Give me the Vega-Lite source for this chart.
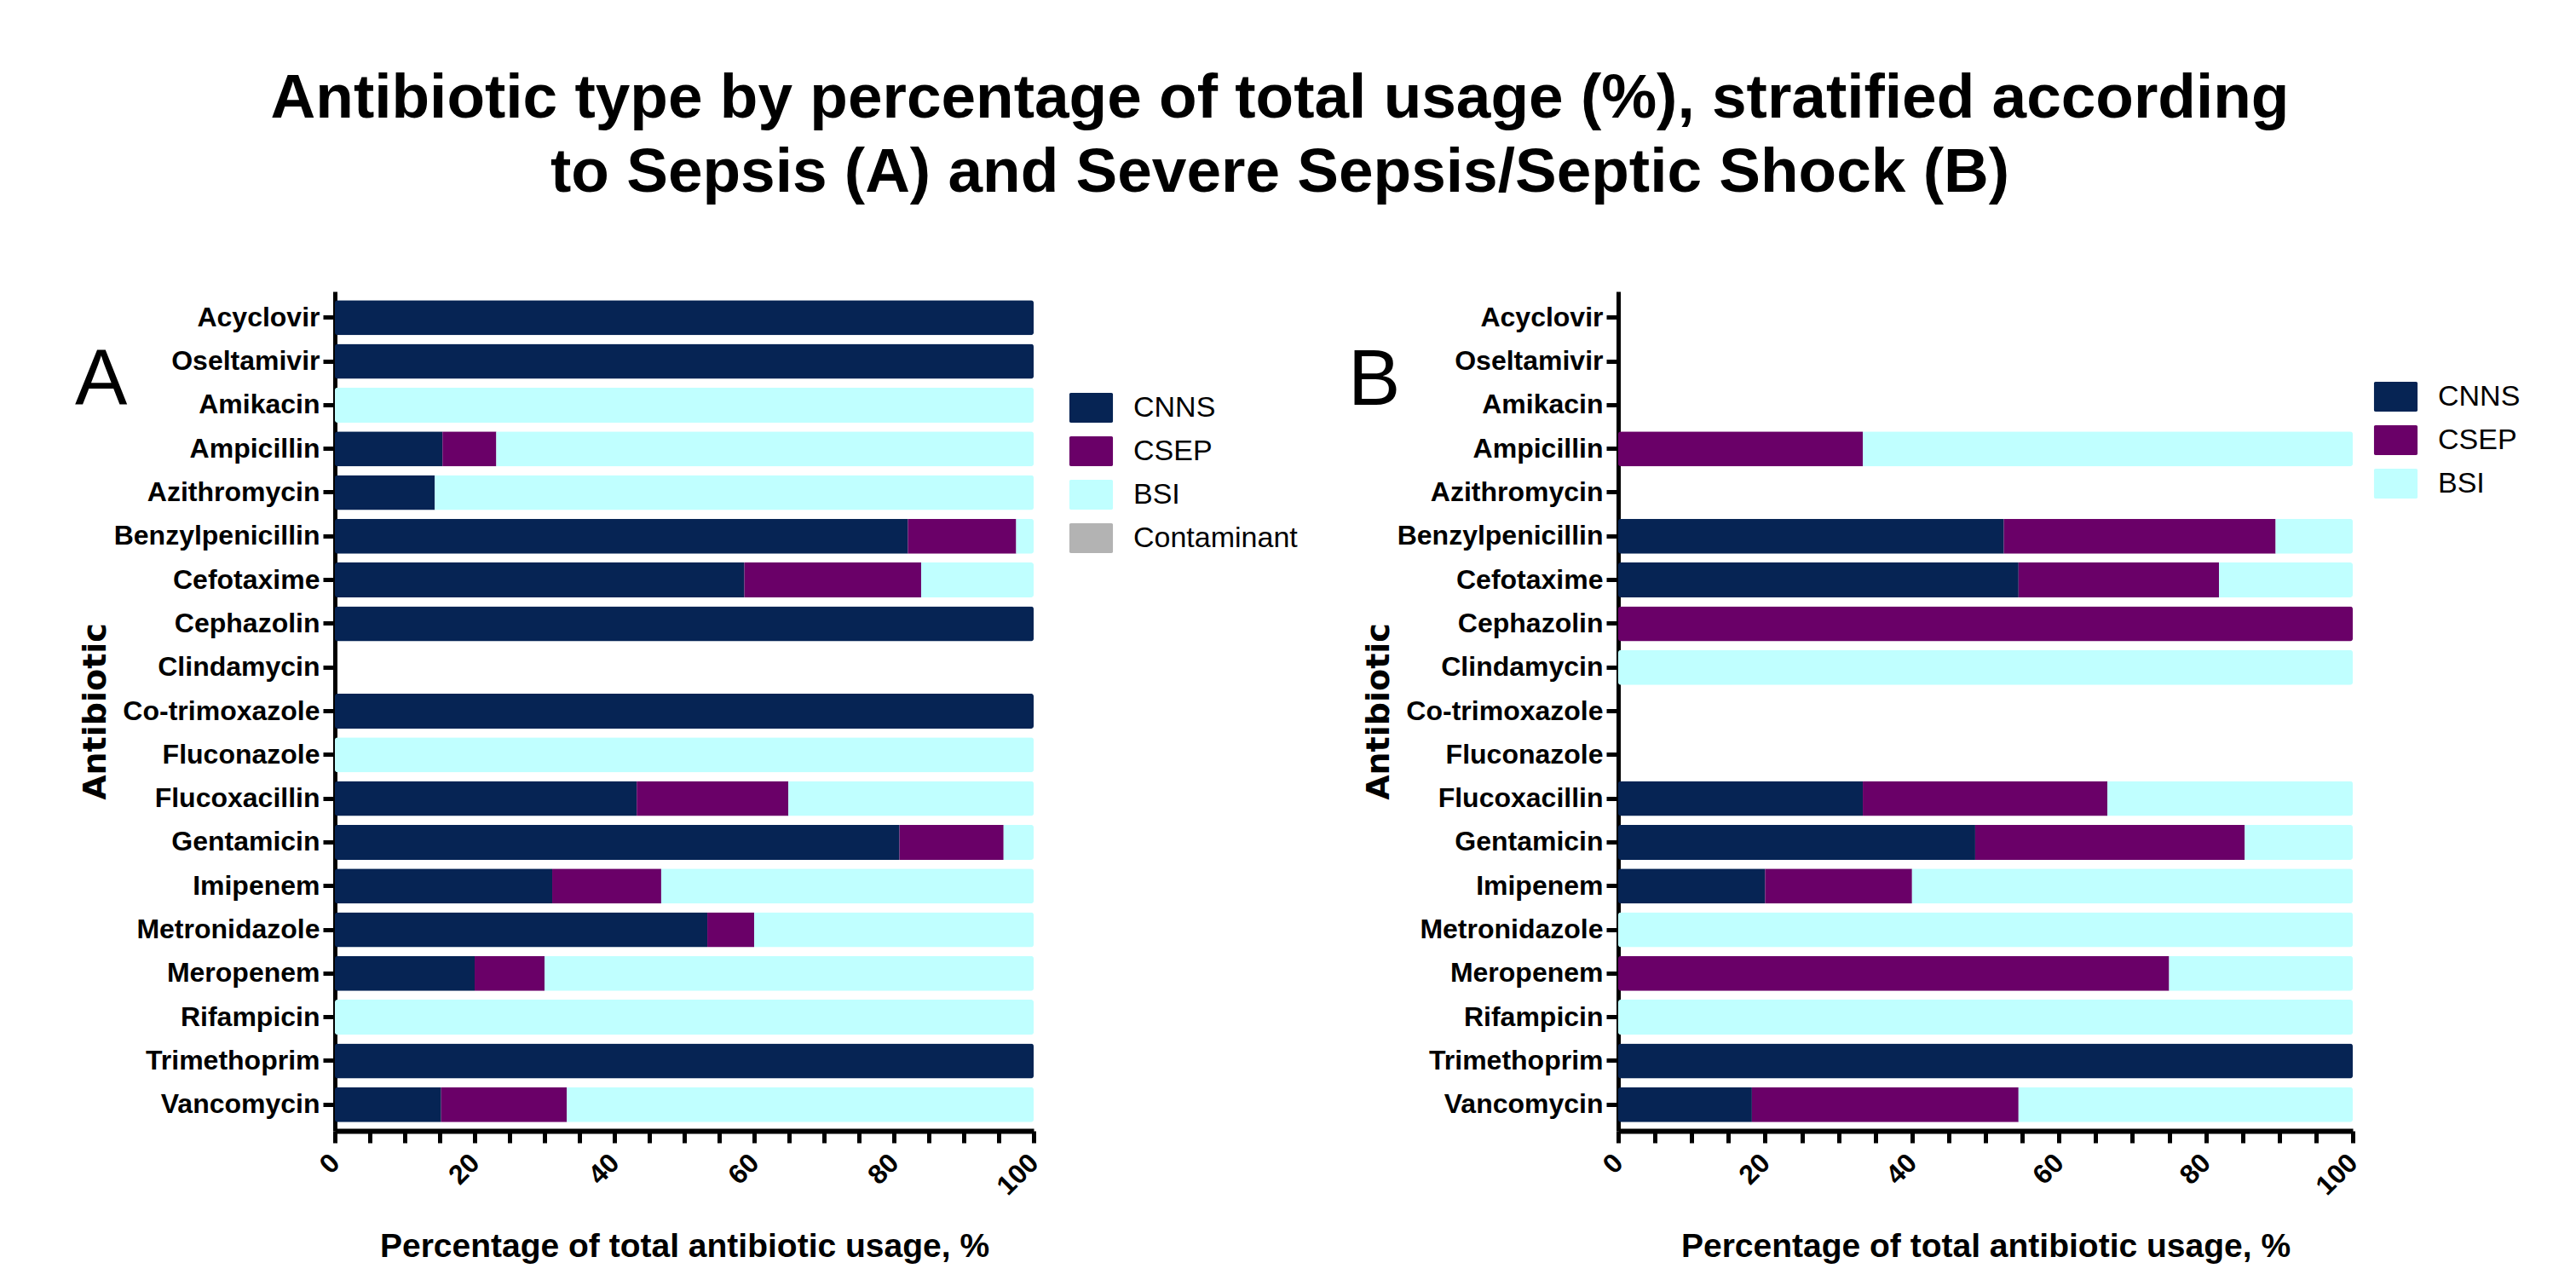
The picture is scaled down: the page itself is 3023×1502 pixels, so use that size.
{
  "$schema": "https://vega.github.io/schema/vega-lite/v6.json",
  "background": "white",
  "padding": {"left": 88, "top": 80, "right": 20, "bottom": 10},
  "title": {
    "text": ["Antibiotic type by percentage of total usage (%), stratified according", "to Sepsis (A) and Severe Sepsis/Septic Shock (B)"],
    "fontSize": 73,
    "font": "Liberation Sans",
    "fontWeight": "bold",
    "lineHeight": 87,
    "anchor": "middle",
    "offset": 102,
    "dx": -21,
    "color": "black"
  },
  "datasets": {
    "usage": [
      {"panel": "A", "antibiotic": "Acyclovir", "organism": "CNNS", "value": 100},
      {"panel": "A", "antibiotic": "Oseltamivir", "organism": "CNNS", "value": 100},
      {"panel": "A", "antibiotic": "Amikacin", "organism": "BSI", "value": 100},
      {"panel": "A", "antibiotic": "Ampicillin", "organism": "CNNS", "value": 15.4},
      {"panel": "A", "antibiotic": "Ampicillin", "organism": "CSEP", "value": 7.7},
      {"panel": "A", "antibiotic": "Ampicillin", "organism": "BSI", "value": 76.9},
      {"panel": "A", "antibiotic": "Azithromycin", "organism": "CNNS", "value": 14.3},
      {"panel": "A", "antibiotic": "Azithromycin", "organism": "BSI", "value": 85.7},
      {"panel": "A", "antibiotic": "Benzylpenicillin", "organism": "CNNS", "value": 82.0},
      {"panel": "A", "antibiotic": "Benzylpenicillin", "organism": "CSEP", "value": 15.5},
      {"panel": "A", "antibiotic": "Benzylpenicillin", "organism": "BSI", "value": 2.5},
      {"panel": "A", "antibiotic": "Cefotaxime", "organism": "CNNS", "value": 58.6},
      {"panel": "A", "antibiotic": "Cefotaxime", "organism": "CSEP", "value": 25.3},
      {"panel": "A", "antibiotic": "Cefotaxime", "organism": "BSI", "value": 16.1},
      {"panel": "A", "antibiotic": "Cephazolin", "organism": "CNNS", "value": 100},
      {"panel": "A", "antibiotic": "Co-trimoxazole", "organism": "CNNS", "value": 100},
      {"panel": "A", "antibiotic": "Fluconazole", "organism": "BSI", "value": 100},
      {"panel": "A", "antibiotic": "Flucoxacillin", "organism": "CNNS", "value": 43.2},
      {"panel": "A", "antibiotic": "Flucoxacillin", "organism": "CSEP", "value": 21.7},
      {"panel": "A", "antibiotic": "Flucoxacillin", "organism": "BSI", "value": 35.1},
      {"panel": "A", "antibiotic": "Gentamicin", "organism": "CNNS", "value": 80.8},
      {"panel": "A", "antibiotic": "Gentamicin", "organism": "CSEP", "value": 14.9},
      {"panel": "A", "antibiotic": "Gentamicin", "organism": "BSI", "value": 4.3},
      {"panel": "A", "antibiotic": "Imipenem", "organism": "CNNS", "value": 31.1},
      {"panel": "A", "antibiotic": "Imipenem", "organism": "CSEP", "value": 15.6},
      {"panel": "A", "antibiotic": "Imipenem", "organism": "BSI", "value": 53.3},
      {"panel": "A", "antibiotic": "Metronidazole", "organism": "CNNS", "value": 53.3},
      {"panel": "A", "antibiotic": "Metronidazole", "organism": "CSEP", "value": 6.7},
      {"panel": "A", "antibiotic": "Metronidazole", "organism": "BSI", "value": 40.0},
      {"panel": "A", "antibiotic": "Meropenem", "organism": "CNNS", "value": 20},
      {"panel": "A", "antibiotic": "Meropenem", "organism": "CSEP", "value": 10},
      {"panel": "A", "antibiotic": "Meropenem", "organism": "BSI", "value": 70},
      {"panel": "A", "antibiotic": "Rifampicin", "organism": "BSI", "value": 100},
      {"panel": "A", "antibiotic": "Trimethoprim", "organism": "CNNS", "value": 100},
      {"panel": "A", "antibiotic": "Vancomycin", "organism": "CNNS", "value": 15.2},
      {"panel": "A", "antibiotic": "Vancomycin", "organism": "CSEP", "value": 18.0},
      {"panel": "A", "antibiotic": "Vancomycin", "organism": "BSI", "value": 66.8},
      {"panel": "B", "antibiotic": "Ampicillin", "organism": "CSEP", "value": 33.3},
      {"panel": "B", "antibiotic": "Ampicillin", "organism": "BSI", "value": 66.7},
      {"panel": "B", "antibiotic": "Benzylpenicillin", "organism": "CNNS", "value": 52.5},
      {"panel": "B", "antibiotic": "Benzylpenicillin", "organism": "CSEP", "value": 37.0},
      {"panel": "B", "antibiotic": "Benzylpenicillin", "organism": "BSI", "value": 10.5},
      {"panel": "B", "antibiotic": "Cefotaxime", "organism": "CNNS", "value": 54.5},
      {"panel": "B", "antibiotic": "Cefotaxime", "organism": "CSEP", "value": 27.3},
      {"panel": "B", "antibiotic": "Cefotaxime", "organism": "BSI", "value": 18.2},
      {"panel": "B", "antibiotic": "Cephazolin", "organism": "CSEP", "value": 100},
      {"panel": "B", "antibiotic": "Clindamycin", "organism": "BSI", "value": 100},
      {"panel": "B", "antibiotic": "Flucoxacillin", "organism": "CNNS", "value": 33.3},
      {"panel": "B", "antibiotic": "Flucoxacillin", "organism": "CSEP", "value": 33.3},
      {"panel": "B", "antibiotic": "Flucoxacillin", "organism": "BSI", "value": 33.4},
      {"panel": "B", "antibiotic": "Gentamicin", "organism": "CNNS", "value": 48.6},
      {"panel": "B", "antibiotic": "Gentamicin", "organism": "CSEP", "value": 36.7},
      {"panel": "B", "antibiotic": "Gentamicin", "organism": "BSI", "value": 14.7},
      {"panel": "B", "antibiotic": "Imipenem", "organism": "CNNS", "value": 20},
      {"panel": "B", "antibiotic": "Imipenem", "organism": "CSEP", "value": 20},
      {"panel": "B", "antibiotic": "Imipenem", "organism": "BSI", "value": 60},
      {"panel": "B", "antibiotic": "Metronidazole", "organism": "BSI", "value": 100},
      {"panel": "B", "antibiotic": "Meropenem", "organism": "CSEP", "value": 75},
      {"panel": "B", "antibiotic": "Meropenem", "organism": "BSI", "value": 25},
      {"panel": "B", "antibiotic": "Rifampicin", "organism": "BSI", "value": 100},
      {"panel": "B", "antibiotic": "Trimethoprim", "organism": "CNNS", "value": 100},
      {"panel": "B", "antibiotic": "Vancomycin", "organism": "CNNS", "value": 18.2},
      {"panel": "B", "antibiotic": "Vancomycin", "organism": "CSEP", "value": 36.3},
      {"panel": "B", "antibiotic": "Vancomycin", "organism": "BSI", "value": 45.5}
    ]
  },
  "hconcat": [
    {
      "width": 820,
      "height": 985,
      "data": {"name": "usage"},
      "transform": [
        {"filter": "datum.panel === 'A'"},
        {"window": [{"op": "row_number", "as": "stack_rank"}], "groupby": ["antibiotic"]}
      ],
      "title": {"text": "A", "anchor": "start", "frame": "group", "fontSize": 92, "fontWeight": "normal", "font": "Liberation Sans", "baseline": "alphabetic", "offset": 0, "dx": -305, "dy": 225, "color": "black"},
      "mark": {"type": "bar", "cornerRadius": 3},
      "encoding": {
        "y": {
          "field": "antibiotic", "type": "nominal", "title": "Antibiotic",
          "scale": {"domain": ["Acyclovir", "Oseltamivir", "Amikacin", "Ampicillin", "Azithromycin", "Benzylpenicillin", "Cefotaxime", "Cephazolin", "Clindamycin", "Co-trimoxazole", "Fluconazole", "Flucoxacillin", "Gentamicin", "Imipenem", "Metronidazole", "Meropenem", "Rifampicin", "Trimethoprim", "Vancomycin"], "paddingInner": 0.2, "paddingOuter": 0.2}
        },
        "x": {
          "field": "value", "type": "quantitative", "stack": "zero",
          "title": "Percentage of total antibiotic usage, %",
          "scale": {"domain": [0, 100], "nice": false}
        },
        "order": {"field": "stack_rank", "type": "quantitative", "sort": "ascending"},
        "color": {
          "field": "organism", "type": "nominal",
          "sort": ["CNNS", "CSEP", "BSI", "Contaminant"],
          "scale": {"domain": ["CNNS", "CSEP", "BSI", "Contaminant"], "range": ["#062454", "#6a0068", "#c0ffff", "#b3b3b3"]},
          "legend": {"orient": "none", "legendX": 870, "legendY": 119, "labelLimit": 400,
            "encode": {"symbols": {"update": {"shape": {"value": "M-1.36,-1H1.36A0.1,0.1 0 0 1 1.46,-0.9V0.9A0.1,0.1 0 0 1 1.36,1H-1.36A0.1,0.1 0 0 1 -1.46,0.9V-0.9A0.1,0.1 0 0 1 -1.36,-1Z"}, "size": {"value": 1225}, "strokeWidth": {"value": 0}}}}}
        }
      }
    },
    {
      "width": 862,
      "height": 985,
      "data": {"name": "usage"},
      "transform": [
        {"filter": "datum.panel === 'B'"},
        {"window": [{"op": "row_number", "as": "stack_rank"}], "groupby": ["antibiotic"]}
      ],
      "title": {"text": "B", "anchor": "start", "frame": "group", "fontSize": 92, "fontWeight": "normal", "font": "Liberation Sans", "baseline": "alphabetic", "offset": 0, "dx": -317, "dy": 225, "color": "black"},
      "mark": {"type": "bar", "cornerRadius": 3},
      "encoding": {
        "y": {
          "field": "antibiotic", "type": "nominal", "title": "Antibiotic",
          "scale": {"domain": ["Acyclovir", "Oseltamivir", "Amikacin", "Ampicillin", "Azithromycin", "Benzylpenicillin", "Cefotaxime", "Cephazolin", "Clindamycin", "Co-trimoxazole", "Fluconazole", "Flucoxacillin", "Gentamicin", "Imipenem", "Metronidazole", "Meropenem", "Rifampicin", "Trimethoprim", "Vancomycin"], "paddingInner": 0.2, "paddingOuter": 0.2}
        },
        "x": {
          "field": "value", "type": "quantitative", "stack": "zero",
          "title": "Percentage of total antibiotic usage, %",
          "scale": {"domain": [0, 100], "nice": false}
        },
        "order": {"field": "stack_rank", "type": "quantitative", "sort": "ascending"},
        "color": {
          "field": "organism", "type": "nominal",
          "sort": ["CNNS", "CSEP", "BSI"],
          "scale": {"domain": ["CNNS", "CSEP", "BSI"], "range": ["#062454", "#6a0068", "#c0ffff"]},
          "legend": {"orient": "none", "legendX": 895, "legendY": 106, "labelLimit": 400,
            "encode": {"symbols": {"update": {"shape": {"value": "M-1.36,-1H1.36A0.1,0.1 0 0 1 1.46,-0.9V0.9A0.1,0.1 0 0 1 1.36,1H-1.36A0.1,0.1 0 0 1 -1.46,0.9V-0.9A0.1,0.1 0 0 1 -1.36,-1Z"}, "size": {"value": 1225}, "strokeWidth": {"value": 0}}}}}
        }
      }
    }
  ],
  "spacing": 59,
  "resolve": {"scale": {"color": "independent", "x": "independent", "y": "independent"}, "legend": {"color": "independent"}},
  "config": {
    "font": "Liberation Sans",
    "view": {"stroke": null},
    "axisY": {
      "labelFont": "Liberation Sans", "labelFontSize": 32, "labelFontWeight": "bold", "labelColor": "black", "labelLimit": 400,
      "labelPadding": 4, "tickSize": 14, "tickWidth": 5, "tickColor": "black",
      "domainColor": "black", "domainWidth": 5, "grid": false,
      "titleFont": "DejaVu Sans", "titleFontSize": 38, "titleFontWeight": "bold", "titleColor": "black", "titlePadding": 62
    },
    "axisX": {
      "values": [0, 10, 20, 30, 40, 50, 60, 70, 80, 90, 100],
      "labelExpr": "datum.value % 20 === 0 ? datum.label : ''",
      "labelFont": "Liberation Sans", "labelFontSize": 32, "labelFontWeight": "bold", "labelColor": "black",
      "labelAngle": -45, "labelAlign": "right", "labelBaseline": "middle", "labelPadding": 18,
      "tickSize": 14, "tickWidth": 5, "tickColor": "black",
      "domainColor": "black", "domainWidth": 6, "grid": false,
      "titleFont": "Liberation Sans", "titleFontSize": 39, "titleFontWeight": "bold", "titleColor": "black", "titlePadding": 35
    },
    "legend": {
      "title": null,
      "labelFont": "Liberation Sans", "labelFontSize": 34, "labelColor": "black",
      "labelOffset": 32, "rowPadding": 16, "padding": 0
    }
  }
}
